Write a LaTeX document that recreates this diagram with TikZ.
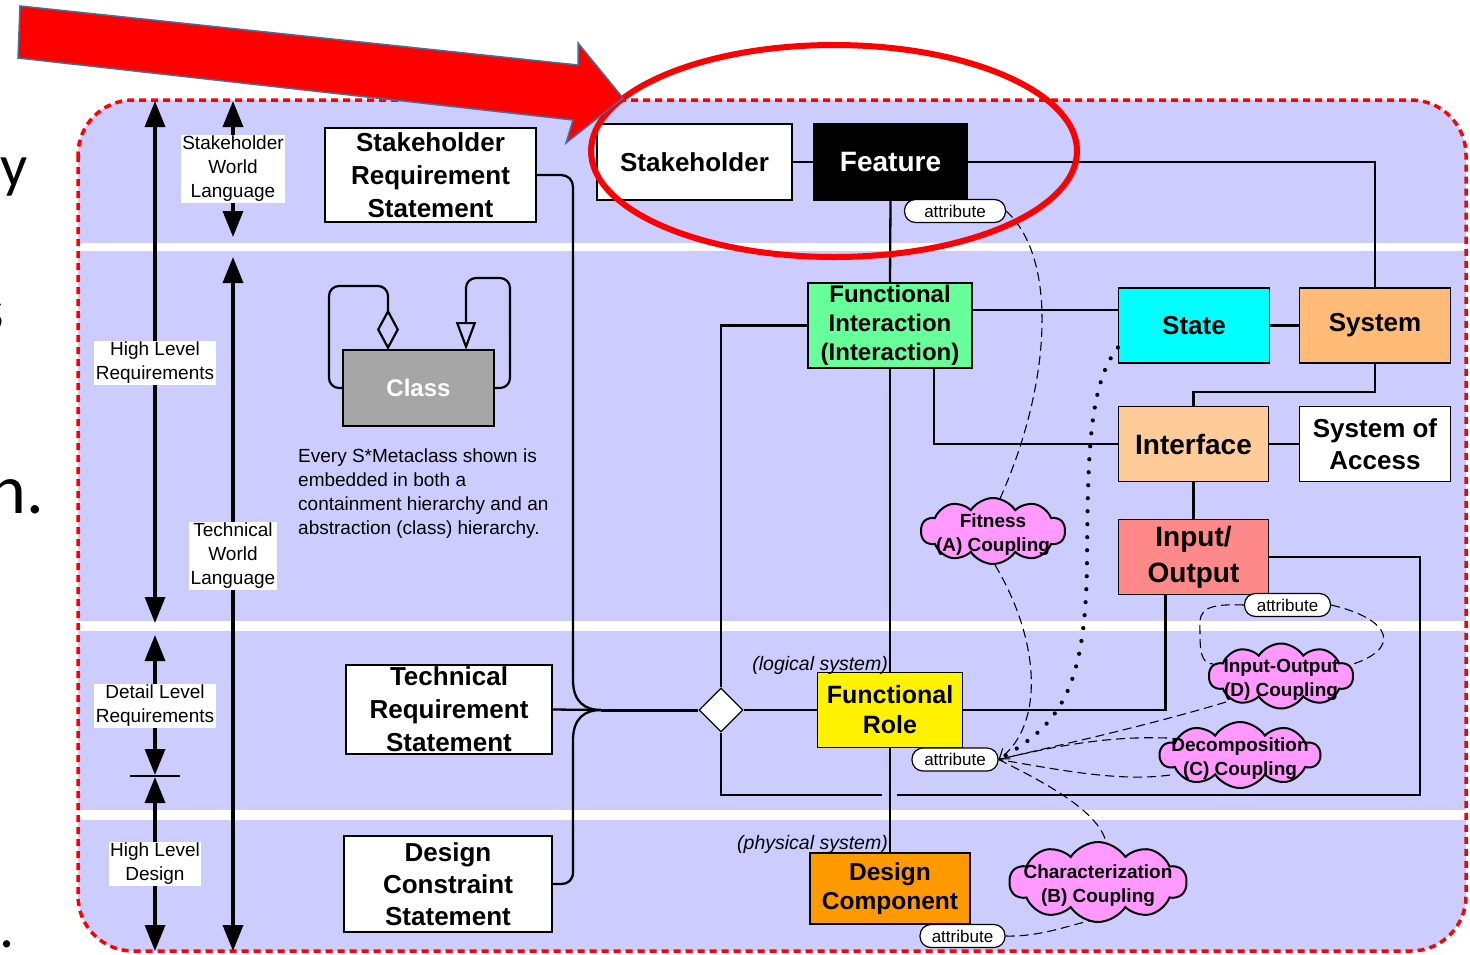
\documentclass[tikz,border=0pt]{standalone}
\usepackage{fontspec}
\setmainfont{Liberation Sans}
\newfontfamily\slidefont{Carlito}
\usetikzlibrary{arrows.meta,shapes.symbols,shapes.geometric}
\definecolor{lav}{HTML}{CCCCFF}
\definecolor{figreen}{HTML}{66FF99}
\definecolor{statecyan}{HTML}{00FFFF}
\definecolor{sysorange}{HTML}{FFBB77}
\definecolor{intforange}{HTML}{FFCC99}
\definecolor{iosalmon}{HTML}{FF8888}
\definecolor{dcorange}{HTML}{FF9900}
\definecolor{classgray}{HTML}{A6A6A6}
\definecolor{cloudpink}{HTML}{FF99FF}
\definecolor{arrowblue}{HTML}{41719C}
\newcommand\mybf[2]{\bfseries\fontsize{#1}{#2}\selectfont}
\newcommand\myrm[2]{\fontsize{#1}{#2}\selectfont}
\begin{document}
\begin{tikzpicture}[x=1pt,y=-1pt,
  box/.style={draw=black, line width=1.3pt, align=center, inner sep=0pt},
  conn/.style={line width=2.3pt},
  attr/.style={draw, fill=white, rounded corners=11pt, line width=1.2pt, font=\myrm{17}{20}, minimum height=23pt, inner sep=0pt},
  cloudnode/.style={cloud, cloud puffs=10, cloud puff arc=115, draw, line width=2pt, fill=cloudpink, inner sep=0pt},
  cloudtext/.style={align=center, font=\mybf{19}{24}, yshift=-3.5pt},
  dline/.style={line width=1.1pt, dash pattern=on 9pt off 5pt},
  lbl/.style={fill=white, align=center, inner sep=1.5pt, font=\myrm{19}{24}},
  varrow/.style={line width=3.5pt, {Triangle[length=26pt,width=20pt]}-{Triangle[length=26pt,width=20pt]}}
]
\useasboundingbox (0,0) rectangle (1470,954);

% slide text fragments
\node[anchor=base east, inner sep=0pt, font=\slidefont\fontsize{60}{60}\selectfont] (fy) at (28,186) {y};
\node[anchor=base east, inner sep=0pt, font=\slidefont\fontsize{60}{60}\selectfont] (fs) at (4,330) {s};
\node[anchor=base east, inner sep=0pt, font=\slidefont\fontsize{70}{70}\selectfont] (fn) at (44,513) {n.};
\node[anchor=base east, inner sep=0pt, font=\slidefont\fontsize{60}{60}\selectfont] (fd) at (15,947) {.};

% background bands
\begin{scope}
  \clip[rounded corners=55pt] (78,100) rectangle (1466,951);
  \fill[lav] (70,90) rectangle (1475,960);
  \fill[white] (70,243) rectangle (1475,251);
  \fill[white] (70,621) rectangle (1475,631);
  \fill[white] (70,810) rectangle (1475,820);
\end{scope}
\draw[red, line width=3.5pt, dash pattern=on 7pt off 5pt, rounded corners=55pt] (78,100) rectangle (1466,951);

% left scale arrows
\draw[varrow] (155,101) -- (155,623);
\draw[varrow] (233,101) -- (233,237);
\draw[varrow] (233,257) -- (233,951);
\draw[varrow] (155,635) -- (155,775);
\draw[varrow] (155,777) -- (155,951);
\draw[line width=1.2pt] (130,776) -- (180,776);
\node[lbl] (swl) at (233,169) {Stakeholder\\World\\Language};
\node[lbl] (hlr) at (155,363) {High Level\\Requirements};
\node[lbl] (twl) at (233,556) {Technical\\World\\Language};
\node[lbl] (dlr) at (155,706) {Detail Level\\Requirements};
\node[lbl] (hld) at (155,864) {High Level\\Design};

% boxes
\node[box, fill=white, minimum width=211pt, minimum height=94pt, font=\mybf{26}{33}] (srs) at (430.5,175) {Stakeholder\\Requirement\\Statement};
\node[box, fill=white, minimum width=206pt, minimum height=89pt, font=\mybf{26}{33}] (trs) at (449,709.5) {Technical\\Requirement\\Statement};
\node[box, fill=white, minimum width=208pt, minimum height=96pt, font=\mybf{26}{32}] (dcs) at (448,884) {Design\\Constraint\\Statement};
\node[box, fill=classgray, text=white, minimum width=151pt, minimum height=76pt, font=\mybf{24}{28}] (cls) at (418.5,388) {Class};

\node[box, fill=white, minimum width=195pt, minimum height=76pt, font=\mybf{26}{30}] (stk) at (694.5,162) {Stakeholder};
\node[box, fill=black, text=white, minimum width=153pt, minimum height=76pt, font=\mybf{28}{30}] (feat) at (890.5,162) {Feature};
\node[box, fill=figreen, minimum width=164pt, minimum height=85pt, font=\mybf{24}{29}] (fi) at (890,325.5) {Functional\\Interaction\\(Interaction)};
\node[box, fill=statecyan, minimum width=151pt, minimum height=75pt, font=\mybf{26}{30}] (state) at (1194,325.5) {State};
\node[box, fill=sysorange, minimum width=151pt, minimum height=75pt, font=\mybf{26}{30}] (sys) at (1375,325.5) {System};
\node[box, fill=intforange, minimum width=150pt, minimum height=75pt, font=\mybf{28}{30}] (intf) at (1193.5,444) {Interface};
\node[box, fill=white, minimum width=151pt, minimum height=75pt, font=\mybf{26}{32}] (soa) at (1375,444) {System of\\Access};
\node[box, fill=iosalmon, minimum width=150pt, minimum height=75pt, font=\mybf{28}{36}] (io) at (1193.5,557) {\raisebox{0pt}{}Input/\\Output\rule[-4pt]{0pt}{4pt}};
\node[box, fill=yellow, minimum width=145pt, minimum height=75pt, font=\mybf{25}{30}] (fr) at (890,710) {Functional\\Role};
\node[box, fill=dcorange, minimum width=160pt, minimum height=71pt, font=\mybf{24.5}{29}] (dc) at (890,888.5) {Design\\Component};
\node[diamond, draw, fill=white, line width=1.3pt, minimum width=44pt, minimum height=44pt, inner sep=0pt] (dia) at (721,710) {};

\node[anchor=base east, inner sep=0pt, font=\itshape\myrm{19.5}{22}] (logl) at (888,670) {(logical system)};
\node[anchor=base east, inner sep=0pt, font=\itshape\myrm{19.5}{22}] (phys) at (888,849) {(physical system)};

\node[anchor=north west, align=left, inner sep=0pt, font=\myrm{19}{23.7}] (note) at (298,449) {Every S*Metaclass shown is\\embedded in both a\\containment hierarchy and an\\abstraction (class) hierarchy.};

% connectors
\draw[conn] (stk.east) -- (feat.west);
\draw[conn] (feat.east) -- (sys.north |- feat.east) -- (sys.north);
\draw[conn] (feat.south) -- (fi.north);
\draw[conn] (fi.east |- 0,310) -- (state.west |- 0,310);
\draw[conn] (state.east) -- (sys.west);
\draw[conn] (fi.west) -- (721,325.5) -- (dia.north);
\draw[conn] (fi.south) -- (fr.north);
\draw[conn] (fr.south) -- (dc.north);
\draw[conn] ([xshift=-39pt]fi.south east) |- (intf.west);
\draw[conn] (sys.south) -- ++(0,28) -| (intf.north);
\draw[conn] (intf.east) -- (soa.west);
\draw[conn] (intf.south) -- (io.north);
\draw[conn] (io.east) -- (1420,557) -- (1420,795) -- (897,795);
\draw[conn] (882,795) -- (721,795) -- (dia.south);
\draw[conn] ([xshift=-28pt]io.south) |- (fr.east);
\draw[conn] (dia.east) -- (fr.west);
\draw[line width=3pt] (dia.west) -- (601,710);
\draw[conn] (trs.east) -- (601,710);
\draw[conn] (srs.east) -- (561,175) .. controls (568,175) and (573,180) .. (573,187) -- (573,680) .. controls (573,702) and (585,710) .. (601,710);
\draw[conn] (dcs.east) -- (561,884) .. controls (568,884) and (573,880) .. (573,872) -- (573,740) .. controls (573,718) and (585,710) .. (601,710);

% class loops
\draw[line width=2.2pt, rounded corners=10pt, -{Diamond[open,length=41pt,width=22pt]}] (cls.west) -- (329,388) -- (329,286) -- (388,286) -- (388,350);
\draw[line width=2.2pt, rounded corners=10pt, -{Triangle[open,length=28pt,width=20pt]}] (cls.east) -- (510,388) -- (510,278) -- (466,278) -- (466,350);

% attribute pills
\node[attr, minimum width=101pt] (a1) at (955,211) {attribute};
\node[attr, minimum width=86pt] (a2) at (1287.5,605) {attribute};
\node[attr, minimum width=86pt] (a3) at (955,759.5) {attribute};
\node[attr, minimum width=85pt] (a4) at (962.5,936) {attribute};

% dashed relations
\draw[dline] (a1.east) .. controls (1060,260) and (1050,390) .. (998,503);
\draw[dline, -{Straight Barb[length=9pt,width=13pt]}] (995,565) .. controls (1040,640) and (1045,725) .. (a3.east);
\draw[dline] (1226,702) .. controls (1150,725) and (1060,745) .. (a3.east);
\draw[dline] (1167,738) .. controls (1110,736) and (1060,745) .. (a3.east);
\draw[dline] (1170,775) .. controls (1120,782) and (1060,770) .. (a3.east);
\draw[dline] (a3.east) .. controls (1050,785) and (1105,815) .. (1107,848);
\draw[dline] (a4.east) .. controls (1040,937) and (1070,925) .. (1093,920);
\draw[dline] (a2.west) .. controls (1195,603) and (1200,615) .. (1200,635) .. controls (1200,660) and (1205,663) .. (1213,664);
\draw[dline] (a2.east) .. controls (1395,620) and (1400,650) .. (1350,665);
\draw[line width=4.2pt, line cap=round, dash pattern=on 0pt off 13pt] ([yshift=-22pt]state.west) .. controls (1088,385) and (1088,460) .. (1087,560) .. controls (1086,690) and (1060,725) .. (a3.east);

% clouds
\node[cloudnode, minimum width=144pt, minimum height=66pt, label={[cloudtext]center:Fitness\\(A) Coupling}] (fit) at (993,531) {};
\node[cloudnode, minimum width=144pt, minimum height=65pt, label={[cloudtext]center:Input-Output\\(D) Coupling}] (ioc) at (1281,676) {};
\node[cloudnode, minimum width=160pt, minimum height=66pt, label={[cloudtext]center:Decomposition\\(C) Coupling}] (dec) at (1240,755) {};
\node[cloudnode, minimum width=177pt, minimum height=80pt, label={[cloudtext]center:Characterization\\(B) Coupling}] (chr) at (1098,882) {};

% highlight
\draw[red, line width=6pt] (834,151) ellipse [x radius=243pt, y radius=106pt];
\draw[draw=arrowblue, fill=red, line width=1.5pt] (20,6) -- (578,65) -- (578,43) -- (623,98) -- (566,143) -- (573,120) -- (18,58) -- cycle;
\end{tikzpicture}
\end{document}
